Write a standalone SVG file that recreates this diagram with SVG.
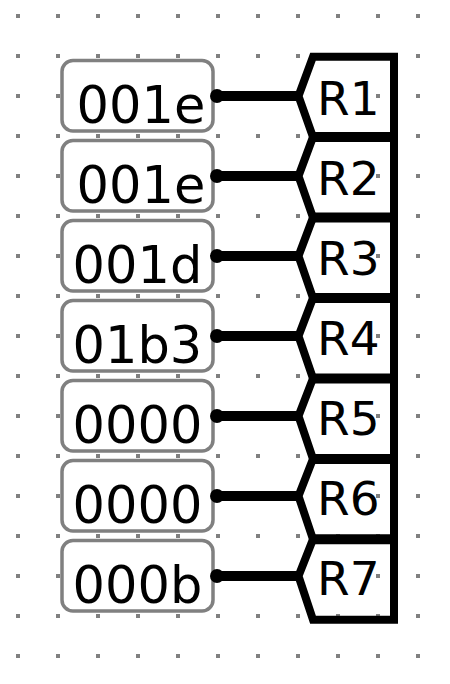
<svg xmlns="http://www.w3.org/2000/svg" width="450" height="684" viewBox="0 0 450 684">
  <style>
    .box { fill: #ffffff; stroke: #808080; stroke-width: 3.5; }
    .val { font-family: "DejaVu Sans", sans-serif; font-size: 51px; fill: #000000; }
    .reg { font-family: "DejaVu Sans", sans-serif; font-size: 47px; fill: #000000; }
    .wire { stroke: #000000; stroke-width: 10; fill: none; }
    .slot { fill: none; stroke: #000000; stroke-width: 8; stroke-linejoin: miter; stroke-miterlimit: 2; }
    .sep { stroke: #000000; stroke-width: 10; }
  </style>
  <defs>
    <pattern id="grid" x="16" y="14" width="40" height="40" patternUnits="userSpaceOnUse">
      <rect x="0" y="0" width="4" height="4" fill="#808080"/>
    </pattern>
  </defs>
  <rect x="0" y="0" width="450" height="684" fill="#ffffff"/>
  <rect x="0" y="0" width="450" height="684" fill="url(#grid)"/>

  <g id="value1"><rect class="box" x="62" y="60.5" width="151" height="70.5" rx="11"/><text class="val" x="76.6" y="123">001e</text></g>
  <g id="value2"><rect class="box" x="62" y="140.5" width="151" height="70.5" rx="11"/><text class="val" x="76.6" y="203">001e</text></g>
  <g id="value3"><rect class="box" x="62" y="220.5" width="151" height="70.5" rx="11"/><text class="val" x="72.6" y="283">001d</text></g>
  <g id="value4"><rect class="box" x="62" y="300.5" width="151" height="70.5" rx="11"/><text class="val" x="72.6" y="363">01b3</text></g>
  <g id="value5"><rect class="box" x="62" y="380.5" width="151" height="70.5" rx="11"/><text class="val" x="72.6" y="443">0000</text></g>
  <g id="value6"><rect class="box" x="62" y="460.5" width="151" height="70.5" rx="11"/><text class="val" x="72.6" y="523">0000</text></g>
  <g id="value7"><rect class="box" x="62" y="540.5" width="151" height="70.5" rx="11"/><text class="val" x="72.6" y="603">000b</text></g>

  <g id="connectors">
    <line class="wire" x1="217" y1="96" x2="299" y2="96"/><circle cx="217" cy="96" r="7"/>
    <line class="wire" x1="217" y1="176" x2="299" y2="176"/><circle cx="217" cy="176" r="7"/>
    <line class="wire" x1="217" y1="256" x2="299" y2="256"/><circle cx="217" cy="256" r="7"/>
    <line class="wire" x1="217" y1="336" x2="299" y2="336"/><circle cx="217" cy="336" r="7"/>
    <line class="wire" x1="217" y1="416" x2="299" y2="416"/><circle cx="217" cy="416" r="7"/>
    <line class="wire" x1="217" y1="496" x2="299" y2="496"/><circle cx="217" cy="496" r="7"/>
    <line class="wire" x1="217" y1="576" x2="299" y2="576"/><circle cx="217" cy="576" r="7"/>
  </g>

  <g id="registers">
    <polygon class="slot" points="394,56.7 313,56.7 298.5,96 313,137.1 394,137.1"/>
    <polygon class="slot" points="394,137.1 313,137.1 298.5,176 313,217.6 394,217.6"/>
    <polygon class="slot" points="394,217.6 313,217.6 298.5,256 313,298 394,298"/>
    <polygon class="slot" points="394,298 313,298 298.5,336 313,378.4 394,378.4"/>
    <polygon class="slot" points="394,378.4 313,378.4 298.5,416 313,458.9 394,458.9"/>
    <polygon class="slot" points="394,458.9 313,458.9 298.5,496 313,539.3 394,539.3"/>
    <polygon class="slot" points="394,539.3 313,539.3 298.5,576 313,619.7 394,619.7"/>
    <line class="sep" x1="313" y1="137.1" x2="394" y2="137.1"/>
    <line class="sep" x1="313" y1="217.6" x2="394" y2="217.6"/>
    <line class="sep" x1="313" y1="298" x2="394" y2="298"/>
    <line class="sep" x1="313" y1="378.4" x2="394" y2="378.4"/>
    <line class="sep" x1="313" y1="458.9" x2="394" y2="458.9"/>
    <line class="sep" x1="313" y1="539.3" x2="394" y2="539.3"/>
    <text class="reg" x="317" y="115">R1</text>
    <text class="reg" x="317" y="195">R2</text>
    <text class="reg" x="317" y="275">R3</text>
    <text class="reg" x="317" y="355">R4</text>
    <text class="reg" x="317" y="435">R5</text>
    <text class="reg" x="317" y="515">R6</text>
    <text class="reg" x="317" y="595">R7</text>
  </g>
</svg>
